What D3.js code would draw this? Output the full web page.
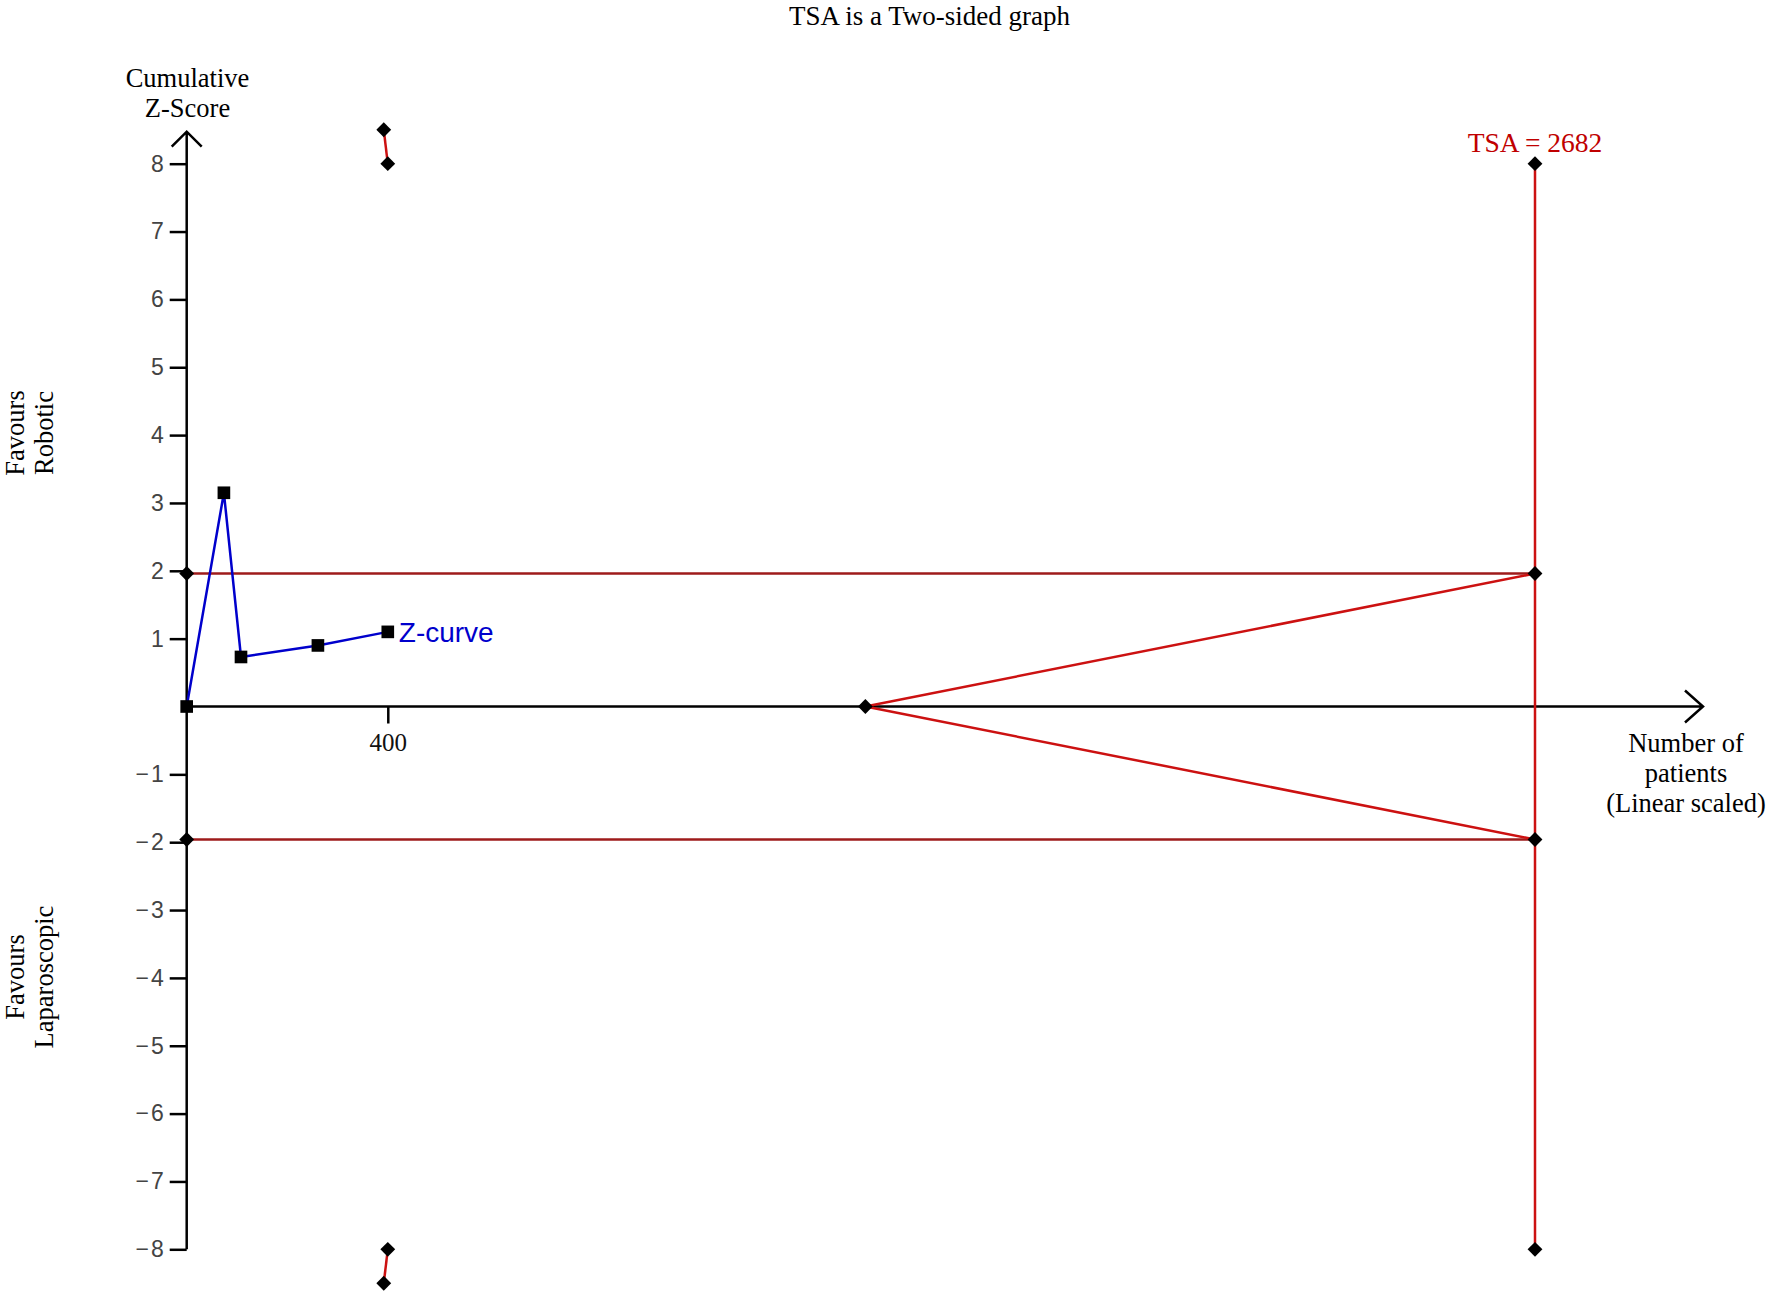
<!DOCTYPE html>
<html lang="en-US">
<head>
    <title>TSA Two-sided graph</title>
    <meta charset="utf-8">
    <script src="https://cdn.jsdelivr.net/npm/d3@7"></script>
    <style>
        body { margin: 0; background: white; }
    </style>
</head>
<body>
    <svg></svg>
<script>

    // ---- data ----
    const zPatients = [0, 74, 108, 261, 400];
    const zScores = [0, 3.15, 0.73, 0.9, 1.1];
    const tsaRequired = 2682;
    const conventionalZ = 1.96;
    const futilityPatients = [1350, tsaRequired];
    const futilityZ = [0, conventionalZ];
    const spendPatients = [392, 400];
    const spendZ = [8.5, 8];
    const yTickValues = [-8, -7, -6, -5, -4, -3, -2, -1, 1, 2, 3, 4, 5, 6, 7, 8];
    const xTickValues = [400];

    let opt = {
        width: 1772,
        height: 1292,
        serif: '"Liberation Serif", "Times New Roman", serif',
        sans: '"Liberation Sans", Arial, sans-serif',
        red: '#cc1111',
        darkRed: '#9e1b1b',
        blue: '#0000cc'
    };

    let svg = d3.select('svg')
        .attr('width', opt.width)
        .attr('height', opt.height);

    let x = d3.scaleLinear().domain([0, tsaRequired]).range([186.7, 1535]);
    let y = d3.scaleLinear().domain([-8, 8]).range([1249.3, 163.7]);

    // title
    svg.append('text')
        .attr('x', 929.5).attr('y', 25)
        .attr('text-anchor', 'middle')
        .style('font-family', opt.serif).style('font-size', '27px')
        .text('TSA is a Two-sided graph');

    // y axis
    let yAxis = svg.append('g')
        .attr('transform', `translate(${x(0)},0)`)
        .call(d3.axisLeft(y).tickValues(yTickValues).tickSize(17).tickSizeOuter(0).tickPadding(6)
            .tickFormat(d => d < 0 ? '\u2212\u200A' + Math.abs(d) : d));
    yAxis.select('.domain').remove();
    yAxis.selectAll('line').attr('stroke-width', 2.5);
    yAxis.selectAll('text')
        .style('font-family', opt.sans).style('font-size', '23px')
        .attr('fill', '#444');

    // x axis
    let xAxis = svg.append('g')
        .attr('transform', `translate(0,${y(0)})`)
        .call(d3.axisBottom(x).tickValues(xTickValues).tickSize(17).tickSizeOuter(0).tickPadding(10));
    xAxis.select('.domain').remove();
    xAxis.selectAll('line').attr('stroke-width', 2.5);
    xAxis.selectAll('text')
        .style('font-family', opt.serif).style('font-size', '25px')
        .attr('fill', '#111');

    // axis lines with arrows
    let yTop = y.range()[1] - 32;
    let xEnd = x.range()[1] + 168;
    let axes = svg.append('g').attr('fill', 'none').attr('stroke', 'black').attr('stroke-width', 2.5);
    axes.append('path').attr('d', `M${x(0)},${y(-8)}V${yTop}M${x(0) - 15},${yTop + 15}L${x(0)},${yTop}L${x(0) + 15},${yTop + 15}`);
    axes.append('path').attr('d', `M${x(0)},${y(0)}H${xEnd}M${xEnd - 18},${y(0) - 16}L${xEnd},${y(0)}L${xEnd - 18},${y(0) + 16}`);

    // axis titles
    let yTitle = svg.append('text')
        .attr('text-anchor', 'middle')
        .style('font-family', opt.serif).style('font-size', '26.5px');
    yTitle.append('tspan').attr('x', 187.5).attr('y', 87).text('Cumulative');
    yTitle.append('tspan').attr('x', 187.5).attr('y', 117).text('Z-Score');

    let xTitle = svg.append('text')
        .attr('text-anchor', 'middle')
        .style('font-family', opt.serif).style('font-size', '26.5px');
    ['Number of', 'patients', '(Linear scaled)'].forEach((t, i) =>
        xTitle.append('tspan').attr('x', 1686).attr('y', 752 + i * 30).text(t));

    function sideLabel(lines, cy) {
        let t = svg.append('text')
            .attr('text-anchor', 'middle')
            .attr('transform', `translate(0,${cy}) rotate(-90)`)
            .style('font-family', opt.serif).style('font-size', '26.5px');
        lines.forEach((s, i) => t.append('tspan').attr('x', 0).attr('y', 24 + i * 29).text(s));
    }
    sideLabel(['Favours', 'Robotic'], 433);
    sideLabel(['Favours', 'Laparoscopic'], 977);

    // boundaries
    let line = d3.line().x(d => x(d[0])).y(d => y(d[1]));
    let bounds = svg.append('g').attr('fill', 'none').attr('stroke-width', 2.5);

    [conventionalZ, -conventionalZ].forEach(z => {
        bounds.append('path').datum([[0, z], [tsaRequired, z]]).attr('d', line).attr('stroke', opt.darkRed);
    });
    bounds.append('path').datum([[tsaRequired, -8], [tsaRequired, 8]]).attr('d', line).attr('stroke', opt.red);
    [1, -1].forEach(s => {
        bounds.append('path')
            .datum(futilityPatients.map((p, i) => [p, s * futilityZ[i]]))
            .attr('d', line).attr('stroke', opt.red);
        bounds.append('path')
            .datum(spendPatients.map((p, i) => [p, s * spendZ[i]]))
            .attr('d', line).attr('stroke', opt.red);
    });

    // diamond markers on boundaries
    let diamonds = [
        [0, conventionalZ], [0, -conventionalZ],
        [tsaRequired, conventionalZ], [tsaRequired, -conventionalZ],
        [tsaRequired, 8], [tsaRequired, -8],
        [futilityPatients[0], 0]
    ];
    spendPatients.forEach((p, i) => { diamonds.push([p, spendZ[i]]); diamonds.push([p, -spendZ[i]]); });

    svg.append('g').selectAll('path')
        .data(diamonds).enter().append('path')
        .attr('d', d3.symbol(d3.symbolSquare, 110))
        .attr('transform', d => `translate(${x(d[0])},${y(d[1])}) rotate(45)`)
        .attr('fill', 'black');

    // TSA label
    svg.append('text')
        .attr('x', x(tsaRequired)).attr('y', 151.5)
        .attr('text-anchor', 'middle')
        .style('font-family', opt.serif).style('font-size', '27.5px')
        .attr('fill', '#c00000')
        .text('TSA = ' + tsaRequired);

    // Z-curve
    let zData = zPatients.map((p, i) => [p, zScores[i]]);
    svg.append('path').datum(zData)
        .attr('d', line)
        .attr('fill', 'none').attr('stroke', opt.blue).attr('stroke-width', 2.5);
    svg.append('g').selectAll('path')
        .data(zData).enter().append('path')
        .attr('d', d3.symbol(d3.symbolSquare, 160))
        .attr('transform', d => `translate(${x(d[0])},${y(d[1])})`)
        .attr('fill', 'black');

    let last = zData[zData.length - 1];
    svg.append('text')
        .attr('x', x(last[0]) + 11).attr('y', y(last[1]) + 10)
        .style('font-family', opt.sans).style('font-size', '28px')
        .attr('fill', opt.blue)
        .text('Z-curve');

</script>
</body>
</html>
